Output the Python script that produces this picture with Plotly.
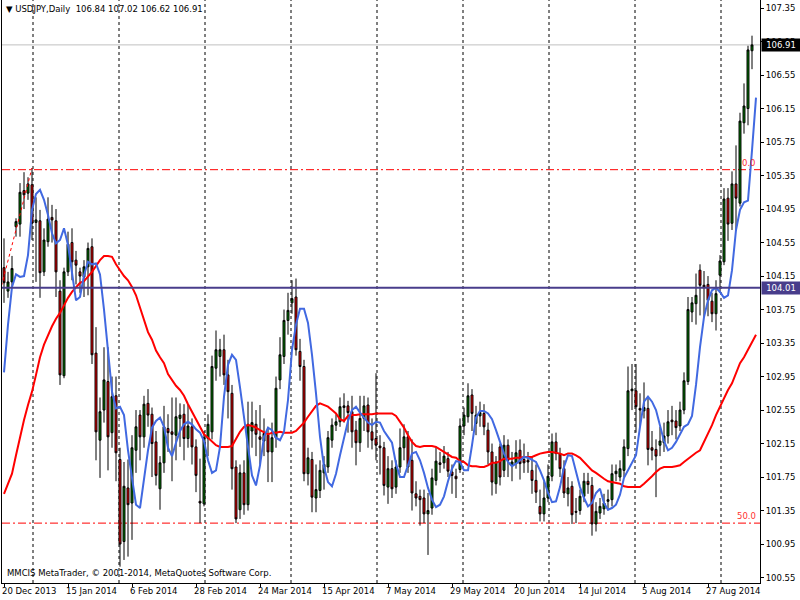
import plotly.graph_objects as go

# ---------------- data ----------------
SYMBOL_TEXT = "USDJPY,Daily  106.84 107.02 106.62 106.91"
COPYRIGHT = "MMCIS MetaTrader, \u00a9 2001-2014, MetaQuotes Software Corp."

TICK_LABELS = ["20 Dec 2013", "15 Jan 2014", "6 Feb 2014", "28 Feb 2014", "24 Mar 2014",
               "15 Apr 2014", "7 May 2014", "29 May 2014", "20 Jun 2014", "14 Jul 2014",
               "5 Aug 2014", "27 Aug 2014"]
BARS_PER_LABEL = 16

OPEN = [104.25, 103.97, 104.08, 104.74, 104.77, 105.17, 105.14, 105.24, 104.79, 104.81,
        104.20, 104.56, 104.85, 104.81, 103.97, 102.96, 104.20, 104.55, 104.34, 104.20,
        104.14, 104.26, 104.50, 103.23, 102.19, 102.55, 102.89, 102.28, 102.72, 101.96,
        100.98, 101.62, 101.44, 102.07, 102.49, 102.23, 102.63, 102.50, 102.17, 101.61,
        101.92, 102.33, 102.29, 102.25, 102.45, 102.50, 102.21, 102.35, 102.11, 101.46,
        101.43, 102.21, 102.29, 103.05, 103.19, 103.27, 102.97, 102.75, 101.87, 101.36,
        101.80, 101.42, 102.30, 102.38, 102.23, 102.18, 102.25, 102.05, 102.22, 102.91,
        103.19, 103.62, 103.83, 103.90, 103.25, 103.07, 101.79, 101.96, 101.50, 101.59,
        101.80, 101.87, 102.19, 102.37, 102.41, 102.58, 102.60, 102.53, 102.31, 102.16,
        102.45, 102.61, 102.29, 102.21, 102.12, 102.10, 101.63, 101.85, 101.63, 101.87,
        102.10, 102.23, 101.95, 101.55, 101.52, 101.50, 101.31, 101.38, 101.71, 101.92,
        101.92, 101.97, 101.81, 101.76, 101.84, 102.36, 102.47, 102.73, 102.39, 102.48,
        102.51, 102.31, 102.05, 101.67, 102.11, 101.83, 102.13, 101.89, 101.91, 102.07,
        101.96, 101.95, 101.83, 101.71, 101.40, 101.31, 101.50, 101.76, 102.17, 102.03,
        101.85, 101.55, 101.64, 101.34, 101.35, 101.52, 101.70, 101.65, 101.19, 101.32,
        101.37, 101.46, 101.48, 101.79, 101.75, 101.83, 102.09, 102.78, 102.78, 102.57,
        102.54, 102.57, 102.10, 102.08, 102.13, 102.16, 102.24, 102.43, 102.42, 102.36,
        102.55, 102.89, 103.72, 103.82, 104.22, 104.04, 104.05, 103.85, 103.70, 104.16,
        104.32, 105.08, 104.78, 105.25, 105.02, 105.98, 106.15, 106.84]

HIGH = [104.60, 104.20, 104.39, 104.84, 105.26, 105.39, 105.33, 105.44, 105.09, 104.94,
        104.72, 105.09, 105.00, 104.95, 104.10, 104.25, 104.68, 104.72, 104.45, 104.25,
        104.34, 104.55, 104.60, 103.54, 102.70, 103.30, 103.30, 102.95, 102.95, 102.10,
        101.93, 101.96, 102.25, 102.55, 102.55, 102.72, 102.80, 102.58, 102.30, 102.00,
        102.60, 102.50, 102.70, 102.70, 102.63, 102.62, 102.62, 102.45, 102.20, 101.97,
        102.30, 102.50, 103.20, 103.50, 103.40, 103.45, 103.15, 102.85, 101.95, 101.90,
        101.95, 102.65, 102.65, 102.55, 102.61, 102.45, 102.35, 102.40, 102.95, 103.42,
        103.75, 103.95, 104.10, 104.12, 103.40, 103.15, 102.10, 102.05, 101.90, 101.95,
        102.00, 102.30, 102.45, 102.50, 102.70, 102.75, 102.66, 102.72, 102.42, 102.72,
        102.72, 102.70, 102.45, 102.99, 102.25, 102.17, 102.00, 101.95, 101.95, 102.33,
        102.38, 102.30, 102.20, 101.70, 101.60, 101.60, 101.56, 101.85, 102.10, 102.05,
        102.12, 102.05, 101.90, 101.85, 102.45, 102.58, 102.87, 102.80, 102.60, 102.65,
        102.62, 102.40, 102.15, 102.00, 102.15, 102.25, 102.20, 102.05, 102.19, 102.20,
        102.15, 102.05, 102.00, 101.90, 101.60, 101.70, 101.90, 102.27, 102.28, 102.10,
        101.95, 101.75, 101.70, 101.50, 101.60, 101.80, 101.80, 101.75, 101.45, 101.50,
        101.55, 101.60, 101.90, 101.90, 101.95, 102.20, 103.07, 103.10, 103.10, 102.75,
        102.88, 102.70, 102.30, 102.20, 102.35, 102.40, 102.55, 102.60, 102.55, 102.65,
        103.00, 103.90, 103.90, 104.18, 104.29, 104.21, 104.15, 103.95, 104.10, 104.40,
        105.20, 105.20, 105.40, 105.71, 106.10, 106.45, 106.90, 107.02]

LOW = [103.83, 103.89, 104.02, 104.62, 104.62, 104.95, 105.06, 104.58, 104.08, 103.89,
       104.15, 104.50, 104.55, 103.90, 102.85, 102.93, 104.15, 104.10, 104.05, 103.95,
       103.90, 103.92, 103.10, 101.95, 101.74, 102.40, 101.83, 102.10, 101.70, 100.68,
       100.76, 100.80, 101.00, 101.80, 101.95, 102.10, 102.35, 101.75, 101.65, 101.36,
       101.80, 102.05, 101.70, 101.95, 102.11, 101.95, 102.10, 101.90, 101.57, 101.20,
       101.40, 102.00, 102.20, 102.90, 102.95, 102.85, 102.45, 101.60, 101.20, 101.25,
       101.30, 101.35, 102.10, 102.00, 101.90, 102.00, 101.69, 101.69, 102.10, 102.80,
       103.10, 103.45, 103.70, 103.20, 102.90, 101.70, 101.65, 101.33, 101.33, 101.50,
       101.60, 101.80, 102.10, 102.30, 102.35, 102.40, 102.28, 102.10, 101.89, 102.05,
       102.30, 102.10, 102.08, 101.95, 101.78, 101.53, 101.43, 101.50, 101.55, 101.80,
       101.95, 101.80, 101.35, 101.40, 101.17, 101.20, 100.82, 101.30, 101.65, 101.80,
       101.85, 101.75, 101.55, 101.50, 101.80, 102.25, 102.40, 102.30, 102.25, 102.35,
       102.25, 101.90, 101.53, 101.55, 101.65, 101.75, 101.75, 101.70, 101.85, 101.72,
       101.80, 101.80, 101.55, 101.44, 101.22, 101.22, 101.45, 101.70, 101.95, 101.75,
       101.50, 101.40, 101.19, 101.20, 101.30, 101.45, 101.55, 101.05, 101.10, 101.25,
       101.30, 101.35, 101.40, 101.70, 101.70, 101.75, 102.00, 102.55, 102.28, 102.35,
       102.45, 101.89, 101.95, 101.51, 102.00, 102.05, 102.15, 102.25, 102.20, 102.30,
       102.50, 102.85, 103.60, 103.57, 103.68, 103.66, 103.67, 103.60, 103.50, 103.95,
       104.28, 104.57, 104.70, 104.69, 104.98, 105.85, 105.95, 106.62]

CLOSE = [104.07, 104.08, 104.24, 104.80, 105.15, 105.12, 105.25, 104.78, 104.82, 104.19,
         104.58, 104.83, 104.82, 104.20, 102.97, 104.20, 104.53, 104.32, 104.28, 104.15,
         104.26, 104.48, 103.21, 102.29, 102.53, 102.91, 102.23, 102.71, 102.04, 100.95,
         101.64, 101.42, 102.10, 102.35, 102.23, 102.62, 102.49, 102.15, 101.77, 101.92,
         102.35, 102.28, 102.26, 102.47, 102.49, 102.21, 102.36, 102.11, 101.77, 101.44,
         102.22, 102.38, 103.07, 103.27, 103.27, 102.97, 102.77, 101.85, 101.25, 101.80,
         101.42, 102.38, 102.40, 102.26, 102.20, 102.27, 102.05, 102.22, 102.81, 103.21,
         103.62, 103.74, 103.88, 103.27, 103.07, 101.79, 101.98, 101.51, 101.60, 101.83,
         101.90, 102.22, 102.37, 102.41, 102.59, 102.60, 102.52, 102.29, 102.16, 102.45,
         102.60, 102.29, 102.19, 102.13, 102.10, 101.65, 101.85, 101.61, 101.87, 102.10,
         102.23, 101.87, 101.56, 101.50, 101.48, 101.31, 101.35, 101.74, 101.94, 101.90,
         102.00, 101.82, 101.77, 101.73, 102.36, 102.49, 102.72, 102.51, 102.49, 102.52,
         102.35, 102.05, 101.69, 101.93, 101.75, 102.13, 101.95, 101.93, 102.04, 101.91,
         101.92, 101.93, 101.71, 101.57, 101.31, 101.50, 101.76, 102.17, 102.03, 101.85,
         101.56, 101.62, 101.30, 101.33, 101.52, 101.70, 101.66, 101.19, 101.34, 101.40,
         101.44, 101.48, 101.79, 101.82, 101.85, 102.11, 102.78, 102.80, 102.59, 102.55,
         102.58, 102.08, 102.07, 102.00, 102.18, 102.24, 102.41, 102.41, 102.34, 102.55,
         102.90, 103.75, 103.83, 103.92, 104.04, 104.02, 103.86, 103.70, 103.94, 104.33,
         105.07, 104.77, 105.25, 105.08, 106.00, 106.18, 106.85, 106.91]

# fast moving average (blue), one value per bar slot (drawn shifted forward)
MA_FAST = [103.00, 103.57, 104.02, 104.17, 104.14, 104.15, 104.40, 104.94, 105.13, 105.18,
           105.06, 104.88, 104.66, 104.54, 104.58, 104.72, 104.52, 104.16, 103.86, 103.90,
           104.16, 104.32, 104.29, 104.30, 104.17, 103.75, 103.23, 102.77, 102.57, 102.59,
           102.49, 102.07, 101.74, 101.42, 101.38, 101.72, 102.07, 102.34, 102.42, 102.46,
           102.35, 102.10, 102.00, 102.16, 102.30, 102.38, 102.41, 102.38, 102.32, 102.28,
           102.18, 101.95, 101.80, 101.83, 102.11, 102.71, 103.09, 103.21, 103.15, 102.82,
           102.43, 102.11, 101.77, 101.65, 101.89, 102.23, 102.34, 102.31, 102.22, 102.19,
           102.29, 102.67, 103.27, 103.57, 103.76, 103.76, 103.59, 103.21, 102.75, 102.23,
           101.87, 101.69, 101.64, 101.79, 102.01, 102.23, 102.42, 102.55, 102.59, 102.52,
           102.46, 102.40, 102.37, 102.41, 102.40, 102.30, 102.23, 102.16, 101.91, 101.75,
           101.75, 101.88, 102.03, 102.05, 101.95, 101.80, 101.62, 101.48, 101.39, 101.42,
           101.52, 101.70, 101.85, 101.94, 101.93, 101.83, 101.83, 102.13, 102.46, 102.54,
           102.54, 102.51, 102.44, 102.31, 102.17, 102.03, 101.93, 101.88, 101.91, 101.95,
           101.99, 101.98, 101.95, 101.93, 101.83, 101.71, 101.56, 101.45, 101.46, 101.63,
           101.87, 102.01, 102.00, 101.81, 101.63, 101.50, 101.40, 101.44, 101.56, 101.61,
           101.44, 101.36, 101.38, 101.42, 101.54, 101.74, 101.83, 101.91, 102.01, 102.35,
           102.65, 102.71, 102.65, 102.55, 102.35, 102.18, 102.07, 102.10, 102.17, 102.26,
           102.35, 102.38, 102.48, 102.85, 103.30, 103.66, 103.86, 103.98, 104.01, 103.96,
           103.89, 103.92, 104.22, 104.70, 104.94, 105.03, 105.05, 105.65, 106.28]

# slow moving average (red)
MA_SLOW = [101.55, 101.66, 101.79, 102.01, 102.23, 102.43, 102.61, 102.77, 102.97, 103.18,
           103.33, 103.45, 103.55, 103.64, 103.71, 103.80, 103.89, 103.96, 104.01, 104.07,
           104.09, 104.14, 104.20, 104.27, 104.34, 104.39, 104.39, 104.38, 104.29, 104.22,
           104.15, 104.10, 104.02, 103.92, 103.78, 103.62, 103.48, 103.39, 103.26, 103.18,
           103.11, 102.98, 102.91, 102.84, 102.79, 102.72, 102.62, 102.53, 102.43, 102.34,
           102.26, 102.22, 102.18, 102.13, 102.11, 102.11, 102.11, 102.12, 102.20, 102.29,
           102.35, 102.37, 102.36, 102.34, 102.31, 102.28, 102.26, 102.28, 102.28, 102.29,
           102.28, 102.28, 102.28, 102.30, 102.35, 102.40, 102.47, 102.53, 102.60, 102.63,
           102.61, 102.59, 102.55, 102.51, 102.44, 102.42, 102.48, 102.49, 102.49, 102.50,
           102.50, 102.50, 102.50, 102.51, 102.51, 102.51, 102.51, 102.51, 102.48, 102.41,
           102.34, 102.25, 102.17, 102.12, 102.11, 102.12, 102.12, 102.12, 102.11, 102.08,
           102.06, 102.02, 101.99, 101.98, 101.94, 101.93, 101.89, 101.88, 101.88, 101.87,
           101.87, 101.89, 101.92, 101.92, 101.94, 101.97, 101.97, 101.97, 101.98, 101.98,
           101.99, 101.99, 101.99, 102.01, 102.03, 102.04, 102.05, 102.05, 102.04, 102.03,
           102.01, 102.03, 102.03, 102.01, 101.98, 101.93, 101.88, 101.83, 101.80, 101.76,
           101.73, 101.70, 101.69, 101.68, 101.67, 101.64, 101.63, 101.63, 101.63, 101.63,
           101.67, 101.71, 101.76, 101.81, 101.85, 101.87, 101.87, 101.87, 101.88, 101.89,
           101.93, 101.97, 102.00, 102.04, 102.07, 102.17, 102.25, 102.37, 102.49, 102.59,
           102.71, 102.79, 102.87, 103.00, 103.11, 103.18, 103.27, 103.35, 103.45]

LAST_PRICE = 106.91
HLINE_PRICE = 104.01
FIB_LEVEL_0 = 105.42
FIB_LEVEL_50 = 101.20
FIB_ANCHOR_BARS = [-39, 7]
FIB_ANCHOR_PRICES = [96.96, 105.44]

Y_MIN, Y_MAX = 100.485, 107.446
Y_TICK_START, Y_TICK_STEP, Y_TICK_COUNT = 100.55, 0.40, 18
GRID_BARS = [7.25 + 21.5 * k for k in range(9)]

FONT = "DejaVu Sans"
FS = 8.5

# ---------------- figure ----------------
x_bars = list(range(len(OPEN)))
x_ma = list(range(len(MA_FAST)))

fig = go.Figure()

fig.add_trace(go.Scatter(x=FIB_ANCHOR_BARS, y=FIB_ANCHOR_PRICES, mode="lines",
                         line=dict(color="#FF0000", width=1, dash="dot"),
                         hoverinfo="skip", showlegend=False))

fig.add_trace(go.Candlestick(
    x=x_bars, open=OPEN, high=HIGH, low=LOW, close=CLOSE,
    increasing=dict(fillcolor="#008000", line=dict(color="#000000", width=1)),
    decreasing=dict(fillcolor="#FF0000", line=dict(color="#000000", width=1)),
    whiskerwidth=0, showlegend=False, hoverinfo="skip"))

fig.add_trace(go.Scatter(x=x_ma, y=MA_SLOW, mode="lines",
                         line=dict(color="#FF0000", width=2),
                         hoverinfo="skip", showlegend=False))
fig.add_trace(go.Scatter(x=x_ma, y=MA_FAST, mode="lines",
                         line=dict(color="#4169E1", width=2),
                         hoverinfo="skip", showlegend=False))

shapes = []
for gx in GRID_BARS:
    shapes.append(dict(type="line", xref="x", yref="paper", x0=gx, x1=gx, y0=0, y1=1,
                       line=dict(color="#000000", width=1, dash="3px,3px"), layer="below"))
shapes.append(dict(type="line", xref="paper", yref="y", x0=0, x1=1, y0=LAST_PRICE, y1=LAST_PRICE,
                   line=dict(color="#C0C0C0", width=1), layer="below"))
for lvl in (FIB_LEVEL_0, FIB_LEVEL_50):
    shapes.append(dict(type="line", xref="paper", yref="y", x0=0, x1=1, y0=lvl, y1=lvl,
                       line=dict(color="#FF0000", width=1, dash="8px,3px,2px,3px"), layer="below"))
shapes.append(dict(type="line", xref="paper", yref="y", x0=0, x1=1, y0=HLINE_PRICE, y1=HLINE_PRICE,
                   line=dict(color="#483D8B", width=2), layer="above"))

annotations = [
    dict(xref="paper", yref="paper", x=0, y=1, xanchor="left", yanchor="top", xshift=2, yshift=-2,
         text="\u25BC " + SYMBOL_TEXT, showarrow=False, font=dict(family=FONT, size=FS, color="#000000")),
    dict(xref="paper", yref="paper", x=0, y=0, xanchor="left", yanchor="bottom", xshift=3, yshift=3,
         text=COPYRIGHT, showarrow=False, font=dict(family=FONT, size=FS, color="#000000")),
    dict(xref="paper", yref="y", x=1, y=LAST_PRICE, xanchor="left", yanchor="middle", xshift=1,
         text=f"{LAST_PRICE:.2f}", showarrow=False, bgcolor="#000000", borderpad=1, width=36,
         font=dict(family=FONT, size=FS, color="#FFFFFF")),
    dict(xref="paper", yref="y", x=1, y=HLINE_PRICE, xanchor="left", yanchor="middle", xshift=1,
         text=f"{HLINE_PRICE:.2f}", showarrow=False, bgcolor="#483D8B", borderpad=1, width=36,
         font=dict(family=FONT, size=FS, color="#FFFFFF")),
    dict(xref="paper", yref="y", x=1, y=FIB_LEVEL_0, xanchor="right", yanchor="bottom", xshift=-2,
         text="0.0", showarrow=False, font=dict(family=FONT, size=FS, color="#FF3030")),
    dict(xref="paper", yref="y", x=1, y=FIB_LEVEL_50, xanchor="right", yanchor="bottom", xshift=-2,
         text="50.0", showarrow=False, font=dict(family=FONT, size=FS, color="#FF3030")),
]

y_ticks = [round(Y_TICK_START + Y_TICK_STEP * k, 2) for k in range(Y_TICK_COUNT)]

fig.update_layout(
    width=800, height=600,
    margin=dict(l=2, r=40, t=0, b=17, pad=0),
    paper_bgcolor="#FFFFFF", plot_bgcolor="#FFFFFF",
    showlegend=False,
    shapes=shapes, annotations=annotations,
    xaxis=dict(range=[-0.5, 189], tickvals=[BARS_PER_LABEL * k for k in range(len(TICK_LABELS))],
               ticktext=TICK_LABELS, ticks="outside", ticklen=3, tickcolor="#000000",
               ticklabelposition="outside right", ticklabelstandoff=0, ticklabelshift=-3,
               showgrid=False, zeroline=False,
               showline=True, linecolor="#000000", linewidth=1, mirror=True,
               rangeslider=dict(visible=False),
               tickfont=dict(family=FONT, size=FS, color="#000000")),
    yaxis=dict(side="right", range=[Y_MIN, Y_MAX], tickvals=y_ticks,
               ticktext=[f"{v:.2f}" for v in y_ticks], ticks="outside", ticklen=3,
               tickcolor="#000000", showgrid=False, zeroline=False,
               showline=True, linecolor="#000000", linewidth=1, mirror=True,
               tickfont=dict(family=FONT, size=FS, color="#000000")),
)

fig.write_html("out.html", config={"displayModeBar": False},
               post_script="document.body.style.margin='0px';document.body.style.overflow='hidden';")
